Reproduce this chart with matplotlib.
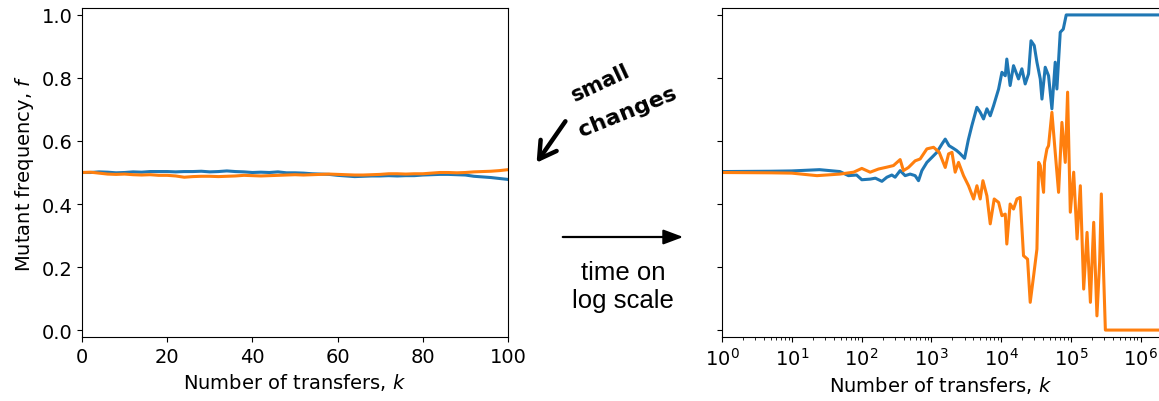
import numpy as np
import matplotlib
matplotlib.use("Agg")
import matplotlib.pyplot as plt
from matplotlib.patches import FancyArrowPatch

# ---- left panel: first 100 transfers (linear time) ----
k_lin = [0, 2, 4, 6, 8, 10, 12, 14, 16, 18, 20, 22, 24, 26, 28, 30, 32, 34, 36, 38, 40,
         42, 44, 46, 48, 50, 52, 54, 56, 58, 60, 62, 64, 66, 68, 70, 72, 74, 76, 78, 80,
         82, 84, 86, 88, 90, 92, 94, 96, 98, 100]
blue_lin = [0.500, 0.500, 0.502, 0.501, 0.499, 0.500, 0.502, 0.501, 0.503, 0.503, 0.503,
            0.502, 0.503, 0.503, 0.504, 0.502, 0.503, 0.505, 0.503, 0.502, 0.500,
            0.501, 0.500, 0.502, 0.499, 0.499, 0.498, 0.496, 0.495, 0.494, 0.491,
            0.489, 0.487, 0.488, 0.489, 0.489, 0.490, 0.489, 0.490, 0.490, 0.492,
            0.493, 0.494, 0.494, 0.493, 0.492, 0.488, 0.486, 0.484, 0.481, 0.478]
orange_lin = [0.500, 0.501, 0.498, 0.495, 0.494, 0.495, 0.493, 0.492, 0.493, 0.491, 0.491,
              0.489, 0.485, 0.487, 0.488, 0.488, 0.487, 0.488, 0.489, 0.491, 0.490,
              0.489, 0.490, 0.491, 0.492, 0.493, 0.492, 0.493, 0.494, 0.495, 0.494,
              0.493, 0.492, 0.492, 0.493, 0.494, 0.496, 0.496, 0.495, 0.496, 0.496,
              0.498, 0.500, 0.500, 0.499, 0.500, 0.502, 0.503, 0.504, 0.506, 0.509]

# ---- right panel: long run (log time) ----
k_blue = [1, 5, 10, 25, 49, 65, 85, 101, 133, 158, 196, 231, 272, 303, 358, 422, 498, 587,
          656, 733, 865, 1021, 1203, 1419, 1585, 1800, 2060, 2300, 2560, 2800, 3000, 3400,
          3820, 4510, 5030, 5610, 6270, 7000, 7820, 9230, 10300, 11500, 12100, 13500,
          15100, 17800, 19900, 22200, 24800, 26900, 29900, 32700, 36500, 38600, 43000,
          48000, 53600, 59800, 63200, 70600, 78000, 86000, 2e6]
f_blue = [0.503, 0.504, 0.505, 0.509, 0.503, 0.490, 0.492, 0.477, 0.479, 0.482, 0.472,
          0.485, 0.492, 0.485, 0.506, 0.490, 0.495, 0.490, 0.474, 0.506, 0.532, 0.548,
          0.564, 0.590, 0.606, 0.585, 0.577, 0.570, 0.561, 0.552, 0.545, 0.604, 0.649,
          0.707, 0.691, 0.670, 0.702, 0.680, 0.712, 0.765, 0.818, 0.807, 0.860, 0.776,
          0.839, 0.797, 0.829, 0.781, 0.813, 0.918, 0.903, 0.850, 0.797, 0.733, 0.834,
          0.807, 0.702, 0.850, 0.765, 0.945, 0.955, 1.000, 1.000]

k_orange = [1, 5, 10, 23, 49, 77, 101, 133, 175, 231, 287, 358, 399, 471, 587, 693, 865,
            1079, 1300, 1585, 1770, 1980, 2200, 2460, 2900, 3420, 4040, 4510, 5030, 5500,
            6270, 7000, 7980, 9230, 10300, 11500, 12100, 13500, 15100, 16900, 18800, 21000,
            24000, 26200, 29300, 32700, 34600, 36500, 40700, 42000, 45500, 48000, 53600,
            59800, 66800, 74600, 83300, 90000, 98400, 110000, 123000, 137000, 153000,
            171000, 191000, 213000, 237000, 259000, 274000, 296000, 313000, 2e6]
f_orange = [0.500, 0.499, 0.498, 0.490, 0.495, 0.501, 0.513, 0.501, 0.511, 0.517, 0.522,
            0.541, 0.506, 0.516, 0.537, 0.543, 0.575, 0.580, 0.564, 0.516, 0.559, 0.564,
            0.501, 0.532, 0.490, 0.458, 0.416, 0.458, 0.416, 0.474, 0.426, 0.337, 0.416,
            0.405, 0.363, 0.368, 0.273, 0.400, 0.384, 0.416, 0.421, 0.236, 0.225, 0.088,
            0.172, 0.257, 0.532, 0.522, 0.437, 0.532, 0.575, 0.585, 0.691, 0.564, 0.437,
            0.659, 0.532, 0.755, 0.374, 0.501, 0.289, 0.458, 0.130, 0.310, 0.088, 0.342,
            0.045, 0.215, 0.432, 0.172, 0.000, 0.000]

W, H = 1159, 402
fig = plt.figure(figsize=(W / 100, H / 100), dpi=100)

def px(x, y):
    return x / W, 1 - y / H

labs = 14
ax1 = fig.add_axes([82 / W, 1 - 338 / H, (508 - 82) / W, (338 - 9) / H])
ax2 = fig.add_axes([722 / W, 1 - 338 / H, (1160 - 722) / W, (338 - 9) / H])

ax1.plot(k_lin, blue_lin, color="#1f77b4", lw=2.2)
ax1.plot(k_lin, orange_lin, color="#ff7f0e", lw=2.2)
ax1.set_xlim(0, 100)
ax1.set_ylim(-0.022, 1.022)
ax1.set_ylabel("Mutant frequency, $f$", fontsize=labs)
ax1.set_xlabel("Number of transfers, $k$", fontsize=labs)

ax2.plot(k_blue, f_blue, color="#1f77b4", lw=2.2)
ax2.plot(k_orange, f_orange, color="#ff7f0e", lw=2.2)
ax2.set_xscale("log")
ax2.set_xlim(1, 1.9e6)
ax2.set_ylim(-0.022, 1.022)
ax2.set_xlabel("Number of transfers, $k$", fontsize=labs)
ax2.tick_params(labelleft=False)

for ax in (ax1, ax2):
    ax.tick_params(labelsize=labs)
    ax.set_yticks([0, 0.2, 0.4, 0.6, 0.8, 1.0])

# handwritten-ish note
fig.text(*px(601, 83), "small", fontsize=15, fontweight="heavy",
         rotation=25, ha="center", va="center")
fig.text(*px(628, 112), "changes", fontsize=16, fontweight="heavy",
         rotation=22, ha="center", va="center")
fig.patches.append(FancyArrowPatch(px(567, 120), px(535, 166), transform=fig.transFigure,
                                   arrowstyle="->,head_length=0.6,head_width=0.35",
                                   mutation_scale=20, lw=3.2, color="black",
                                   capstyle="round", joinstyle="round"))

# time arrow
fig.patches.append(FancyArrowPatch(px(560, 238), px(686, 238), transform=fig.transFigure,
                                   arrowstyle="-|>,head_length=8,head_width=3",
                                   lw=1.6, color="black", mutation_scale=1.5))
fig.text(*px(623, 287), "time on\nlog scale", fontsize=18.5, family="Liberation Sans",
         ha="center", va="center", linespacing=1.2)

fig.savefig("out.png", dpi=100)
